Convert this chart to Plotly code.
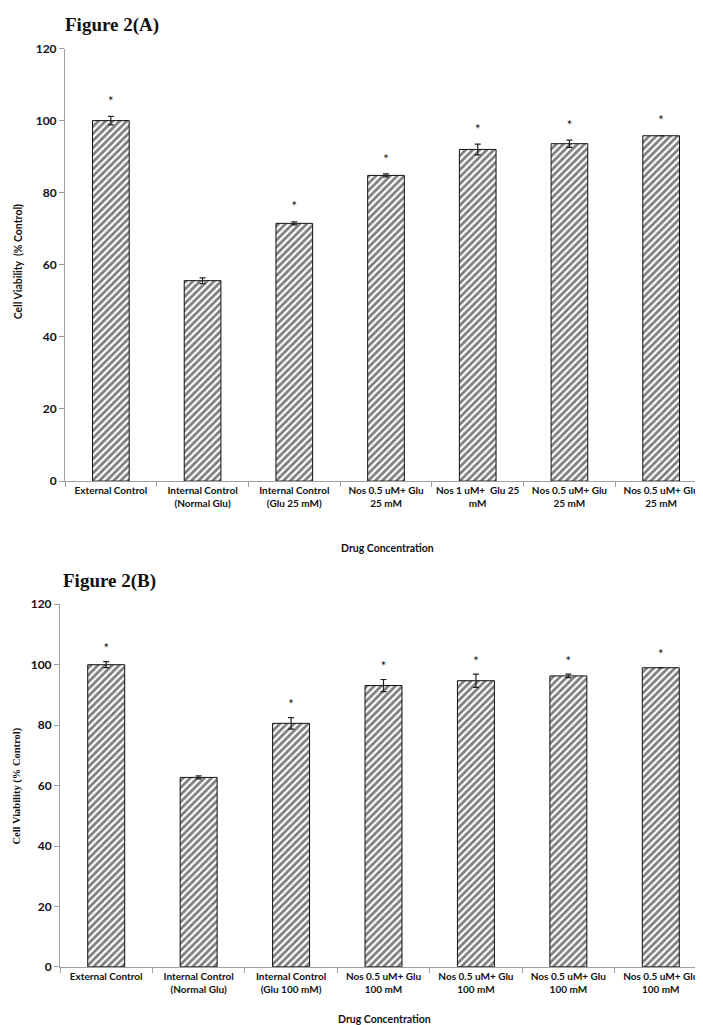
import plotly.graph_objects as go

# ---------------- data ----------------
labels_a = ["External Control", "Internal Control<br>(Normal Glu)", "Internal Control<br>(Glu 25 mM)",
            "Nos 0.5 uM+ Glu<br>25 mM", "Nos 1 uM+  Glu 25<br>mM", "Nos 0.5 uM+ Glu<br>25 mM",
            "Nos 0.5 uM+ Glu<br>25 mM"]
values_a = [100.0, 55.6, 71.5, 84.8, 92.0, 93.6, 95.8]
errors_a = [1.2, 0.8, 0.4, 0.4, 1.5, 1.0, 0.0]
sig_a = ["*", "", "*", "*", "*", "*", "*"]

labels_b = ["External Control", "Internal Control<br>(Normal Glu)", "Internal Control<br>(Glu 100 mM)",
            "Nos 0.5 uM+ Glu<br>100 mM", "Nos 0.5 uM+ Glu<br>100 mM", "Nos 0.5 uM+ Glu<br>100 mM",
            "Nos 0.5 uM+ Glu<br>100 mM"]
values_b = [100.0, 62.7, 80.6, 93.1, 94.7, 96.3, 99.0]
errors_b = [1.0, 0.5, 1.9, 2.0, 2.2, 0.6, 0.0]
sig_b = ["*", "", "*", "*", "*", "*", "*"]

y_ticks = [0, 20, 40, 60, 80, 100, 120]

W, H = 703, 1025
SANS = "Lato, 'Open Sans', sans-serif"
SERIF = "'Liberation Serif', 'Times New Roman', serif"

fig = go.Figure()

def add_panel(vals, errs, sig, xa, ya):
    pos = list(range(len(vals)))
    fig.add_trace(go.Bar(
        x=pos, y=vals, width=0.4, xaxis=xa, yaxis=ya,
        marker=dict(color="white", line=dict(color="#111", width=1),
                    pattern=dict(shape="/", fgcolor="#000", bgcolor="white", size=5, solidity=0.55)),
        error_y=dict(type="data", array=errs, visible=True, color="#222", thickness=1.2, width=3),
        showlegend=False, hoverinfo="skip"))
    fig.add_trace(go.Scatter(
        x=pos, y=[v + e + 3.8 for v, e in zip(vals, errs)], text=sig, mode="text",
        textfont=dict(family=SANS, size=13, color="#111"), textposition="middle center",
        xaxis=xa, yaxis=ya, showlegend=False, hoverinfo="skip"))

add_panel(values_a, errors_a, sig_a, "x", "y")
add_panel(values_b, errors_b, sig_b, "x2", "y2")

def py(px):
    return 1 - px / H

def pxx(px):
    return px / W

xcommon = dict(range=[-0.5, 6.5], showgrid=False, zeroline=False, showline=True,
               linecolor="#a0a0a0", linewidth=1, ticks="", tickvals=list(range(7)), tickangle=0,
               tickfont=dict(family=SANS, size=10, color="#111", weight="bold"),
               minor=dict(tick0=-0.5, dtick=1, ticks="outside", ticklen=5, tickcolor="#a0a0a0"))
ycommon = dict(range=[0, 120], tickvals=y_ticks, showgrid=False, zeroline=False, showline=True,
               linecolor="#a0a0a0", linewidth=1, ticks="outside", ticklen=5, tickcolor="#a0a0a0",
               tickfont=dict(family=SANS, size=12, color="#111", weight="bold"))

fig.update_layout(
    width=W, height=H, margin=dict(l=0, r=0, t=0, b=0),
    paper_bgcolor="white", plot_bgcolor="white",
    xaxis=dict(domain=[pxx(57), pxx(699)], anchor="y", ticktext=labels_a, **xcommon),
    yaxis=dict(domain=[py(472), py(33)], anchor="x", **ycommon),
    xaxis2=dict(domain=[pxx(52), pxx(699)], anchor="y2", ticktext=labels_b, **xcommon),
    yaxis2=dict(domain=[py(965), py(597)], anchor="x2", **ycommon),
)

annots = [
    dict(text="<b>Figure 2(A)</b>", x=pxx(55), y=py(9), xanchor="left", yanchor="middle",
         font=dict(family=SERIF, size=19, color="#111")),
    dict(text="<b>Figure 2(B)</b>", x=pxx(53), y=py(573), xanchor="left", yanchor="middle",
         font=dict(family=SERIF, size=19, color="#111")),
    dict(text="<b>Drug Concentration</b>", x=pxx(379), y=py(540), xanchor="center", yanchor="middle",
         font=dict(family=SANS, size=10.5, color="#111")),
    dict(text="<b>Drug Concentration</b>", x=pxx(376), y=py(1018), xanchor="center", yanchor="middle",
         font=dict(family=SANS, size=10.5, color="#111")),
    dict(text="<b>Cell Viability  (% Control)</b>", x=pxx(10), y=py(250), textangle=-90,
         xanchor="center", yanchor="middle", font=dict(family=SANS, size=10.5, color="#111")),
    dict(text="<b>Cell Viability (% Control)</b>", x=pxx(9), y=py(782), textangle=-90,
         xanchor="center", yanchor="middle", font=dict(family=SERIF, size=10.5, color="#111")),
]
for a in annots:
    fig.add_annotation(xref="paper", yref="paper", showarrow=False, **a)

fig.write_html("out.html")
